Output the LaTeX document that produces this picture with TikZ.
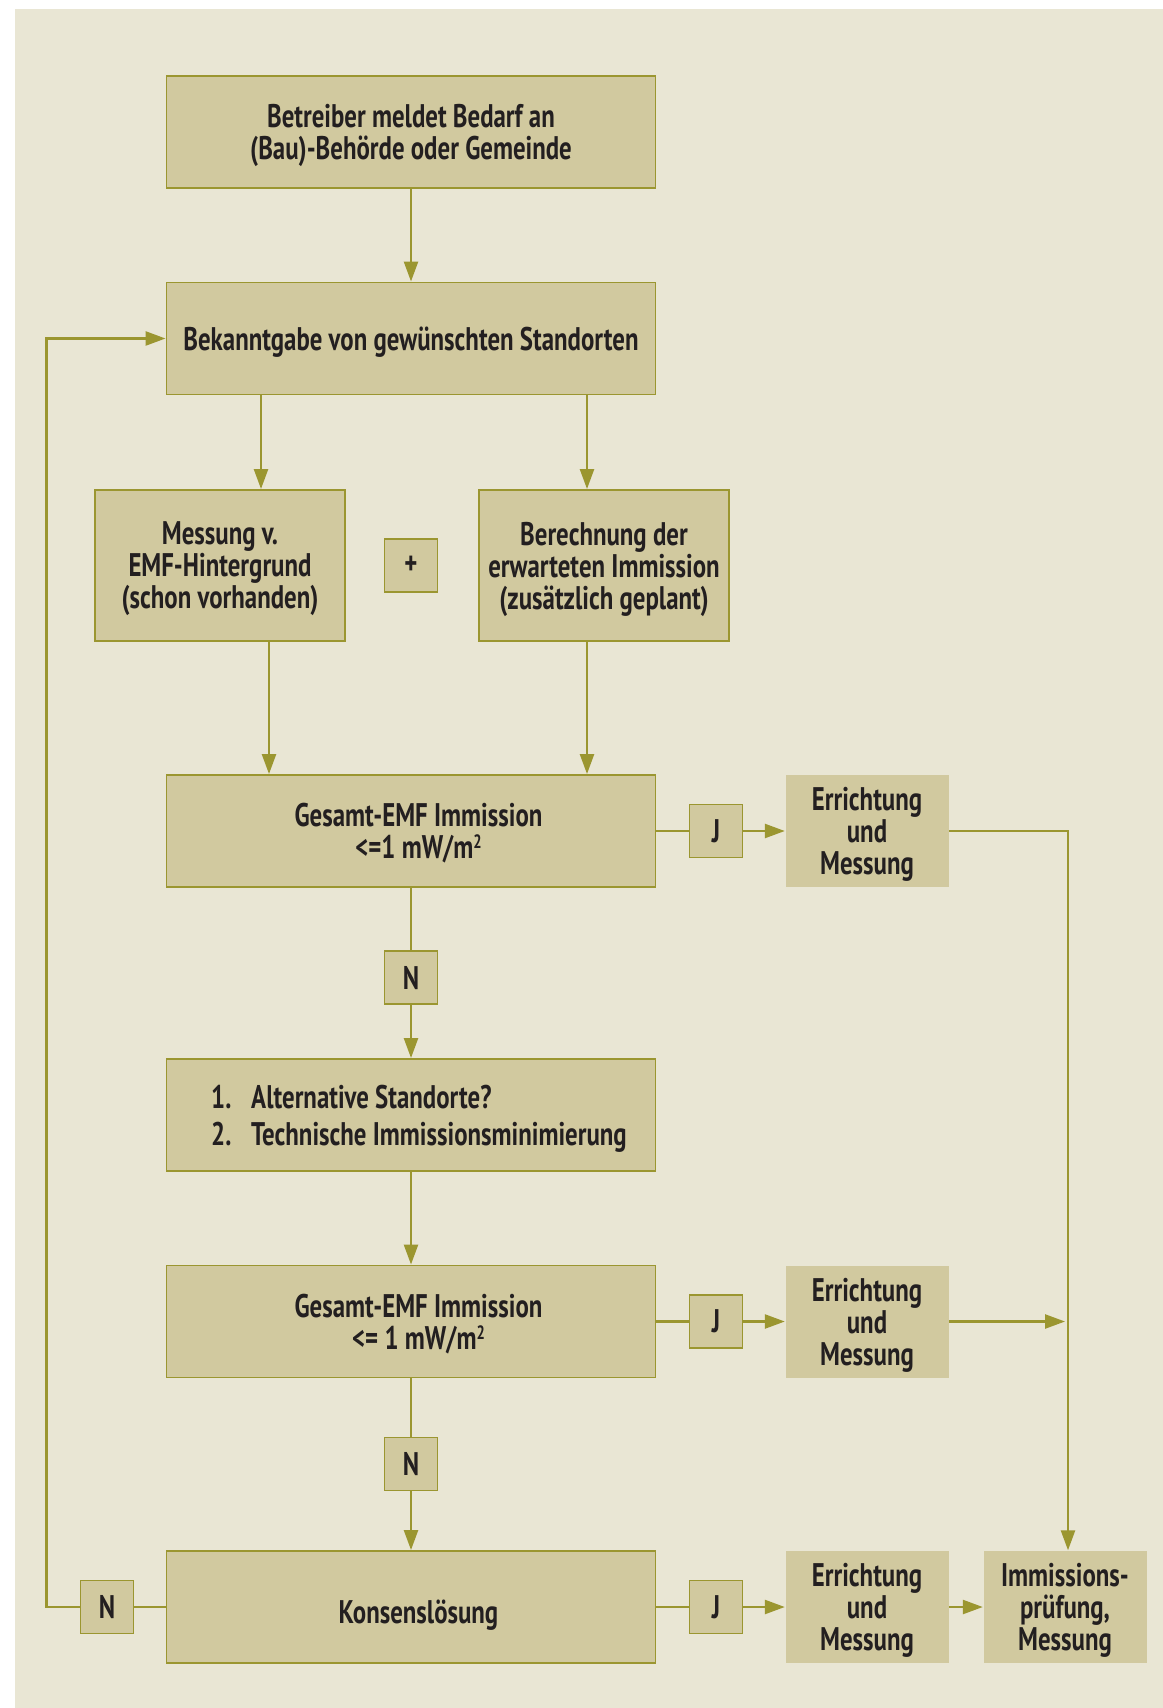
\documentclass[tikz,border=0pt]{standalone}
\usepackage{fontspec}
\setmainfont{PT Sans}[FakeStretch=0.76]
\usepackage{tikz}
\usetikzlibrary{arrows.meta}
\definecolor{paper}{RGB}{233,230,212}
\definecolor{boxfill}{RGB}{209,201,159}
\definecolor{olive}{RGB}{155,150,48}
\definecolor{ink}{RGB}{35,31,32}
\newcommand{\sqm}{m\raisebox{0.6ex}{\fontsize{5.5}{5}\selectfont 2}}

\begin{document}
\begin{tikzpicture}[x = 0.1mm, y = -0.1mm,
  every node/.style = {font = \fontsize{9.3}{9.1}\selectfont\bfseries, text = ink, align = center, inner sep = 0pt, text depth = 0pt},
  drop/.style = {execute at begin node = {\rule{0pt}{#1}}},
  box/.style = {draw = olive, fill = boxfill, line width = 0.55pt, minimum width = 48.9mm, minimum height = 11.2mm},
  halfbox/.style = {box, minimum width = 25mm, minimum height = 15.1mm, drop = 8.2pt},
  tag/.style = {draw = olive, fill = boxfill, line width = 0.55pt, minimum width = 5.3mm, minimum height = 5.3mm},
  result/.style = {fill = boxfill, minimum width = 16.3mm, minimum height = 11.2mm, drop = 8.5pt},
  link/.style = {draw = olive, line width = 0.7pt},
  flow/.style = {link, -{Triangle[length = 2mm, width = 1.4mm]}}]

\useasboundingbox (0, 0) rectangle (1163, 1708);
\fill [paper] (15, 9) rectangle (1163, 1708);

% main column
\node [box] (bedarf) at (411, 132) {Betreiber meldet Bedarf an\\(Bau)-Behörde oder Gemeinde};
\node [box] (standorte) at (411, 338.5) {Bekanntgabe von gewünschten Standorten};
\node [halfbox] (hintergrund) at (220, 565.5) {Messung v.\\EMF-Hintergrund\\(schon vorhanden)};
\node [tag] (plus) at (411, 565.5) {+};
\node [halfbox] (berechnung) at (604, 565.5) {Berechnung der\\erwarteten Immission\\(zusätzlich geplant)};
\node [box] (gesamtA) at (411, 831) {\hspace*{1.5mm}Gesamt-EMF Immission\\\hspace*{1.5mm}<=1 mW/\sqm};
\node [tag] (nA) at (411, 977.5) {N};
\node [box, align = left, font = \fontsize{9.3}{10.5}\selectfont\bfseries] (alternativ) at (411, 1115)
  {\hspace*{1.6mm}\makebox[4mm][l]{1.}Alternative Standorte?\\\hspace*{1.6mm}\makebox[4mm][l]{2.}Technische Immissionsminimierung};
\node [box] (gesamtB) at (411, 1321.5) {\hspace*{1.5mm}Gesamt-EMF Immission\\\hspace*{1.5mm}<= 1 mW/\sqm};
\node [tag] (nB) at (411, 1464) {N};
\node [box, drop = 9.5pt] (konsens) at (411, 1607) {\hspace*{1.5mm}Konsenslösung};

% right column
\node [tag] (jA) at (716, 831) {J};
\node [result] (errA) at (867, 831) {Errichtung\\und\\Messung};
\node [tag] (jB) at (716, 1321.5) {J};
\node [result] (errB) at (867, 1321.5) {Errichtung\\und\\Messung};
\node [tag] (jC) at (716, 1607) {J};
\node [result] (errC) at (867, 1607) {Errichtung\\und\\Messung};
\node [result] (pruefung) at (1065, 1607) {Immissions-\\prüfung,\\Messung};
\node [tag] (nC) at (107, 1607) {N};

% connectors
\draw [flow] (bedarf) -- (standorte);
\draw [flow] ([xshift = -15mm]standorte.south) -- ([xshift = -15mm]standorte.south |- hintergrund.north);
\draw [flow] ([xshift = 17.6mm]standorte.south) -- ([xshift = 17.6mm]standorte.south |- berechnung.north);
\draw [flow] ([xshift = 4.9mm]hintergrund.south) -- ([xshift = 4.9mm]hintergrund.south |- gesamtA.north);
\draw [flow] ([xshift = -1.7mm]berechnung.south) -- ([xshift = -1.7mm]berechnung.south |- gesamtA.north);
\draw [link] (gesamtA) -- (nA);
\draw [flow] (nA) -- (alternativ);
\draw [flow] (alternativ) -- (gesamtB);
\draw [link] (gesamtB) -- (nB);
\draw [flow] (nB) -- (konsens);

\draw [link] (gesamtA) -- (jA);
\draw [flow] (jA) -- (errA);
\draw [link] (gesamtB) -- (jB);
\draw [flow] (jB) -- (errB);
\draw [link] (konsens) -- (jC);
\draw [flow] (jC) -- (errC);
\draw [flow] (errC) -- (pruefung);
\draw [flow] (errA.east) -| ([xshift = 0.3mm]pruefung.north);
\draw [flow] (errB.east) -- (errB.east -| pruefung.north);

\draw [link] (konsens) -- (nC);
\draw [flow] (nC.west) -- ++(-3.3mm, 0) |- (standorte.west);

\end{tikzpicture}
\end{document}
